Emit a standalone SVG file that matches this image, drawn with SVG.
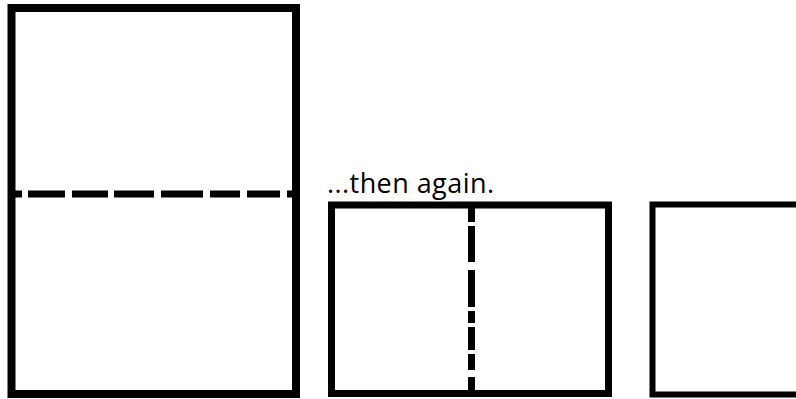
<svg xmlns="http://www.w3.org/2000/svg" width="796" height="399" viewBox="0 0 796 399">
<style>
.frame{fill:none;stroke:#000;stroke-linejoin:miter}
.dash{stroke:#000;stroke-linecap:butt}
.lbl{font-family:"Open Sans","Noto Sans",sans-serif;font-size:27px;fill:#000}
</style>
<rect width="796" height="399" fill="#fff"/>
<g id="sheet-full">
<rect class="frame" x="11.5" y="8" width="284.5" height="386" stroke-width="8"/>
<g id="fold-horizontal" class="dash" stroke-width="7">
<line x1="13" y1="194" x2="22" y2="194"/>
<line x1="28" y1="194" x2="65" y2="194"/>
<line x1="72" y1="194" x2="108" y2="194"/>
<line x1="114" y1="194" x2="154" y2="194"/>
<line x1="161" y1="194" x2="203" y2="194"/>
<line x1="210" y1="194" x2="240" y2="194"/>
<line x1="247" y1="194" x2="280" y2="194"/>
<line x1="287" y1="194" x2="293" y2="194"/>
</g>
</g>
<text class="lbl" x="327" y="193" textLength="167" lengthAdjust="spacing">...then again.</text>
<g id="sheet-half">
<rect class="frame" x="331.5" y="205" width="277" height="188.5" stroke-width="7"/>
<g id="fold-vertical" class="dash" stroke-width="7">
<line x1="471.5" y1="202" x2="471.5" y2="222"/>
<line x1="471.5" y1="226" x2="471.5" y2="262"/>
<line x1="471.5" y1="270" x2="471.5" y2="307"/>
<line x1="471.5" y1="311" x2="471.5" y2="323"/>
<line x1="471.5" y1="327" x2="471.5" y2="350"/>
<line x1="471.5" y1="354" x2="471.5" y2="370"/>
<line x1="471.5" y1="377" x2="471.5" y2="397"/>
</g>
</g>
<g id="sheet-quarter">
<path class="frame" d="M800 204.5 H652.5 V394.5 H800" stroke-width="6"/>
</g>
</svg>
